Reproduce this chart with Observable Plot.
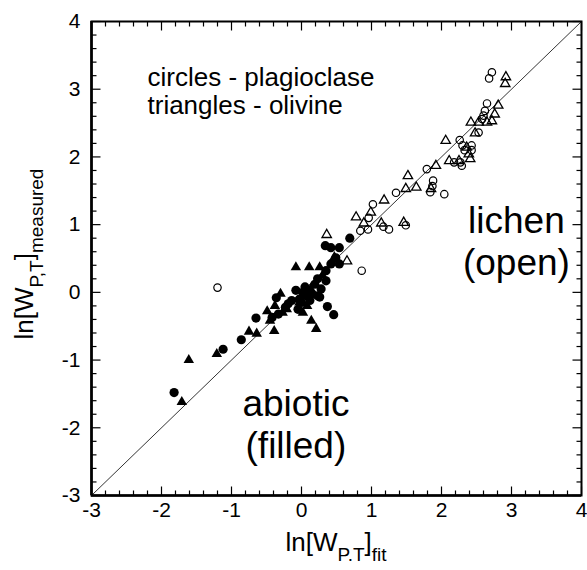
<!DOCTYPE html>
<html><head><meta charset="utf-8">
<script src="https://cdn.jsdelivr.net/npm/d3@7"></script>
<script src="https://cdn.jsdelivr.net/npm/@observablehq/plot@0.6"></script>
<style>body{margin:0;background:#fff} svg{display:block}</style>
</head><body><div id="chart"></div>
<script>
const xDomain = [-3, 4];
const yDomain = [-3, 4];
const majorTicks = [-3, -2, -1, 0, 1, 2, 3, 4];
const minorTicks = d3.range(-2.8, 4, 0.2).filter(v => Math.abs(v - Math.round(v)) > 0.05);

// filled circles: abiotic, plagioclase
const abioticPlagioclase = [
  [-1.82,-1.48],[-1.12,-0.84],[-0.86,-0.70],[-0.65,-0.38],[-0.36,-0.08],[-0.42,-0.37],
  [-0.33,-0.32],[-0.23,-0.22],[-0.19,-0.17],[-0.14,-0.12],[-0.03,-0.10],[0.07,-0.05],
  [-0.08,0.03],[0.02,0.00],[0.11,0.03],[0.23,-0.05],[0.26,-0.07],[0.19,0.12],[0.23,0.20],
  [0.35,0.17],[0.35,0.32],[0.42,0.42],[0.54,0.42],[0.49,0.51],[0.34,0.69],[0.42,0.66],
  [0.54,0.66],[0.69,0.80],[0.37,-0.21],[0.46,-0.33],[0.00,-0.15],[0.12,-0.12],[-0.05,-0.25],
  [0.28,0.05],[0.05,0.08],[0.15,-0.02]
];
// filled triangles: abiotic, olivine
const abioticOlivine = [
  [-1.71,-1.62],[-1.61,-1.00],[-1.21,-0.91],[-0.75,-0.58],[-0.64,-0.61],[-0.49,-0.28],
  [-0.39,-0.57],[-0.30,-0.02],[-0.45,-0.42],[-0.08,0.37],[0.11,0.37],[0.26,0.37],[0.47,0.52],
  [0.02,-0.30],[0.14,-0.42],[0.21,-0.54],[-0.21,-0.25],[-0.03,-0.15],[0.13,0.05],[0.30,0.25],
  [0.08,-0.20],[-0.27,-0.30],[-0.38,-0.20]
];
// open circles: lichen, plagioclase
const lichenPlagioclase = [
  [-1.20,0.07],[0.86,0.32],[0.84,0.91],[0.95,0.93],[1.25,0.93],[1.17,0.97],[1.49,0.99],
  [0.96,1.10],[1.02,1.30],[1.35,1.47],[1.84,1.48],[2.04,1.45],[1.88,1.65],[1.79,1.82],
  [2.18,1.92],[2.27,1.92],[2.29,1.87],[2.26,2.25],[2.30,2.17],[2.33,2.10],[2.43,2.17],
  [2.43,2.10],[2.53,2.36],[2.58,2.56],[2.60,2.61],[2.62,2.68],[2.65,2.79],[2.68,3.16],
  [2.72,3.25],[1.87,1.57]
];
// open triangles: lichen, olivine
const lichenOlivine = [
  [0.36,0.85],[0.65,0.46],[0.78,1.11],[0.89,1.02],[0.99,1.18],[1.14,1.02],[1.46,1.03],
  [1.18,1.36],[1.49,1.53],[1.64,1.55],[1.52,1.72],[1.85,1.53],[1.92,1.87],[2.06,2.24],
  [2.11,1.94],[2.25,1.94],[2.41,1.97],[2.39,2.04],[2.36,2.14],[2.48,2.35],[2.42,2.51],
  [2.53,2.51],[2.65,2.51],[2.72,2.53],[2.76,2.63],[2.81,2.76],[2.91,3.08],[2.92,3.18]
];
const diagonal = [-3, 4];

const W = 587, H = 570;
const M = {left: 91, right: 6, top: 21, bottom: 75};
const FW = W - M.left - M.right, FH = H - M.top - M.bottom;
const font = "'Liberation Sans', Arial, Helvetica, sans-serif";
const px = d => d[0], py = d => d[1];
// tick lengths in pixels, converted to data units of each axis
const majorLen = 9, minorLen = 5;
const xPer = (xDomain[1] - xDomain[0]) / FW, yPer = (yDomain[1] - yDomain[0]) / FH;
const tick = {stroke: "black", strokeWidth: 1.2};
const bottomTop = (vals, len) => vals.flatMap(v => [
  {x: v, a: yDomain[0], b: yDomain[0] + len * yPer},
  {x: v, a: yDomain[1], b: yDomain[1] - len * yPer}
]);
const leftRight = (vals, len) => vals.flatMap(v => [
  {y: v, a: xDomain[0], b: xDomain[0] + len * xPer},
  {y: v, a: xDomain[1], b: xDomain[1] - len * xPer}
]);
const xTickSegs = [...bottomTop(majorTicks, majorLen), ...bottomTop(minorTicks, minorLen)];
const yTickSegs = [...leftRight(majorTicks, majorLen), ...leftRight(minorTicks, minorLen)];

const svg = Plot.plot({
  width: W, height: H,
  marginLeft: M.left, marginRight: M.right, marginTop: M.top, marginBottom: M.bottom,
  style: {fontFamily: font, fontSize: "21px", background: "white", color: "black"},
  x: {domain: xDomain},
  y: {domain: yDomain},
  marks: [
    Plot.axisX(majorTicks, {anchor: "bottom", tickSize: 0, tickPadding: 7, tickFormat: d => String(d), label: null}),
    Plot.axisY(majorTicks, {anchor: "left", tickSize: 0, tickPadding: 11, tickFormat: d => String(d), label: null}),
    Plot.link(xTickSegs, {x1: "x", x2: "x", y1: "a", y2: "b", ...tick}),
    Plot.link(yTickSegs, {y1: "y", y2: "y", x1: "a", x2: "b", ...tick}),
    Plot.line(diagonal, {x: d => d, y: d => d, stroke: "black", strokeWidth: 0.8}),
    Plot.dot(lichenPlagioclase, {x: px, y: py, symbol: "circle", r: 3.7, fill: "none", stroke: "black", strokeWidth: 1.2}),
    Plot.dot(lichenOlivine, {x: px, y: py, symbol: "triangle", r: 3.5, fill: "none", stroke: "black", strokeWidth: 1.3}),
    Plot.dot(abioticPlagioclase, {x: px, y: py, symbol: "circle", r: 4.6, fill: "black", stroke: "none"}),
    Plot.dot(abioticOlivine, {x: px, y: py, symbol: "triangle", r: 3.9, fill: "black", stroke: "none"}),
    Plot.text(["circles - plagioclase\ntriangles - olivine"], {x: -2.2, y: 2.64, text: d => d, textAnchor: "start", lineAnchor: "bottom", lineHeight: 1.08, fontSize: 26, fill: "black"}),
    Plot.text(["lichen\n(open)"], {x: 3.07, y: 0.25, text: d => d, textAnchor: "middle", lineAnchor: "bottom", lineHeight: 1.14, fontSize: 37, fill: "black"}),
    Plot.text(["abiotic\n(filled)"], {x: -0.08, y: -2.45, text: d => d, textAnchor: "middle", lineAnchor: "bottom", lineHeight: 1.14, fontSize: 37, fill: "black"}),
    Plot.frame({stroke: "black", strokeWidth: 2}),
    Plot.ruleX([xDomain[0]], {stroke: "black", strokeWidth: 2.6}),
    Plot.ruleY([yDomain[0]], {stroke: "black", strokeWidth: 2.6})
  ]
});
document.getElementById("chart").appendChild(svg);

const s = d3.select(svg);
const xl = s.append("text").attr("x", M.left + FW / 2).attr("y", 551).attr("text-anchor", "middle")
  .attr("font-family", font).attr("font-size", 26).attr("fill", "black");
xl.append("tspan").text("ln[W");
xl.append("tspan").attr("font-size", 19).attr("dy", 10).text("P.T");
xl.append("tspan").attr("dy", -10).text("]");
xl.append("tspan").attr("font-size", 19).attr("dy", 10).text("fit");

const yl = s.append("text").attr("transform", `translate(33,${M.top + FH / 2 - 4}) rotate(-90)`).attr("text-anchor", "middle")
  .attr("font-family", font).attr("font-size", 26).attr("fill", "black");
yl.append("tspan").text("ln[W");
yl.append("tspan").attr("font-size", 19).attr("dy", 10).text("P,T");
yl.append("tspan").attr("dy", -10).text("]");
yl.append("tspan").attr("font-size", 19).attr("dy", 10).text("measured");
</script>
</body></html>
